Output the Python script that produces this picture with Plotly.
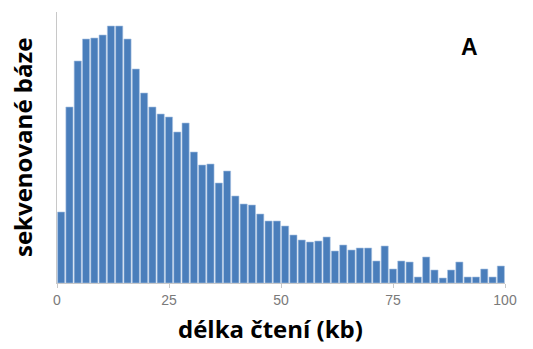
import numpy as np
import plotly.graph_objects as go

# Sequenced bases per read-length bin (arbitrary units), 54 equal bins over 0-100 kb
bases = [71, 176, 222, 244, 245, 248, 257, 257, 244, 214,
         190, 176, 169, 166, 151, 160, 131, 118, 119, 100,
         112, 87, 79, 78, 69, 62, 62, 57, 48, 43,
         41, 42, 46, 32, 38, 33, 35, 35, 22, 37,
         14, 22, 21, 6, 26, 13, 5, 13, 21, 6,
         6, 14, 6, 17]
x_min, x_max = 0, 100
tick_vals = [0, 25, 50, 75, 100]
tick_text = ["0", "25", "50", "75", "100"]
x_title = "délka čtení (kb)"
y_title = "sekvenované báze"
panel_label = "A"

n_bins = len(bases)
bin_w = (x_max - x_min) / n_bins
centers = [x_min + (i + 0.5) * bin_w for i in range(n_bins)]

fig = go.Figure(go.Bar(
    x=centers,
    y=bases,
    width=bin_w * 0.86,
    marker=dict(color="#4a7ebb", line=dict(color="#a9c2e3", width=0.6)),
    hoverinfo="skip",
))

W, H = 533, 349
m_l, m_r, m_t, m_b = 57, 28, 12, 66
plot_w = W - m_l - m_r
plot_h = H - m_t - m_b


def px_to_paper(px, py):
    """Convert a pixel position in the page to paper coordinates."""
    return (px - m_l) / plot_w, 1 - (py - m_t) / plot_h


title_font = dict(family="Open Sans, sans-serif", size=24, color="#000000")
xt_x, xt_y = px_to_paper(270, 328)
yt_x, yt_y = px_to_paper(22, 148)
a_x, a_y = px_to_paper(469, 47)

fig.update_layout(
    width=W, height=H,
    margin=dict(l=m_l, r=m_r, t=m_t, b=m_b),
    paper_bgcolor="white", plot_bgcolor="white",
    showlegend=False,
    xaxis=dict(
        range=[x_min, x_max],
        tickvals=tick_vals, ticktext=tick_text,
        ticks="outside", ticklen=4, tickcolor="#c8c8c8", tickwidth=1,
        showline=True, linecolor="#c8c8c8", linewidth=1,
        showgrid=False, zeroline=False,
        tickfont=dict(family="Liberation Sans, Arial, sans-serif", size=14, color="#7a7a7a"),
    ),
    yaxis=dict(
        range=[0, 271],
        showticklabels=False, ticks="",
        showline=True, linecolor="#c8c8c8", linewidth=1,
        showgrid=False, zeroline=False,
    ),
    annotations=[
        dict(text=f"<b>{x_title}</b>", x=xt_x, y=xt_y, xref="paper", yref="paper",
             xanchor="center", yanchor="middle", showarrow=False, font=title_font),
        dict(text=f"<b>{y_title}</b>", x=yt_x, y=yt_y, xref="paper", yref="paper",
             xanchor="center", yanchor="middle", showarrow=False, textangle=-90,
             font=title_font),
        dict(text=f"<b>{panel_label}</b>", x=a_x, y=a_y, xref="paper", yref="paper",
             xanchor="center", yanchor="middle", showarrow=False,
             font=dict(family="Liberation Sans, Arial, sans-serif", size=23, color="black")),
    ],
)

fig.write_html("out.html")
